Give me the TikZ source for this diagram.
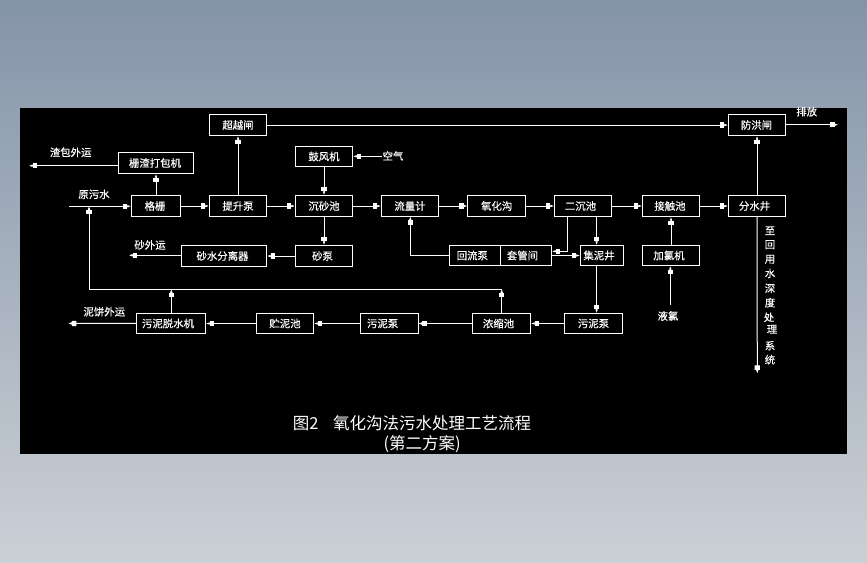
\documentclass[tikz,border=0pt]{standalone}
\usepackage{fontspec}
\setmainfont{Noto Sans CJK SC}[FakeBold=0.3]
\newfontfamily\titlefont{Noto Sans CJK SC}
\usetikzlibrary{arrows.meta}
\definecolor{bgtop}{RGB}{132,148,168}
\definecolor{bgbot}{RGB}{203,208,214}
\newcommand{\bx}[6]{\node[box,minimum width={#4-#2},minimum height={#5-#3}] (#1) at ({(#2+#4)/2},{(#3+#5)/2}) {#6};}
\newcommand{\sft}[1]{\hspace*{#1pt}}
\tikzset{
  x=1pt,y=-1pt,
  box/.style={draw=white,line width=1pt,text=white,inner sep=0pt,font=\fontsize{10.4}{11}\selectfont},
  lbl/.style={text=white,inner sep=0pt,font=\fontsize{10.4}{11}\selectfont},
  conn/.style={draw=white,line width=1pt},
  arr/.style={conn,-{Rectangle[length=4.5pt,width=5.2pt,fill=white]Triangle[length=3.5pt,width=2.2pt,fill=white]}},
  titletext/.style={text=white,inner sep=0pt,font=\titlefont\fontsize{16.5}{17}\selectfont}
}
\begin{document}
\begin{tikzpicture}
\useasboundingbox (0,0) rectangle (867,562);
\shade[top color=bgtop,bottom color=bgbot] (0,0) rectangle (867,562);
\fill[black] (20,108) rectangle (847,454);
% boxes
\bx{chaoyue}{209.3}{114.3}{266.7}{135.7}{超越闸}
\bx{dabao}{118.3}{152.3}{193.7}{173.7}{\sft{-2}栅渣打包机}
\bx{geshan}{131.3}{195.3}{180.7}{216.7}{\sft{-2}格栅}
\bx{tisheng}{209.3}{195.3}{266.7}{216.7}{提升泵}
\bx{gufeng}{295.3}{146.3}{352.7}{166.7}{鼓风机}
\bx{chensha}{295.3}{195.3}{352.7}{216.7}{沉砂池}
\bx{liuliang}{381.3}{195.3}{438.7}{216.7}{流量计}
\bx{yanghua}{467.7}{195.3}{525.7}{216.7}{氧化沟}
\bx{erchen}{554.3}{195.3}{611.7}{216.7}{\sft{-5}二沉池}
\bx{jiechu}{642.3}{195.3}{699.7}{216.7}{\sft{-2}接触池}
\bx{fenshui}{728.3}{195.3}{785.7}{216.7}{\sft{-5}分水井}
\bx{fanghong}{728.3}{114.3}{785.7}{135.7}{\sft{-1}防洪闸}
\bx{shabeng}{295.3}{245.3}{352.7}{266.7}{\sft{-3}砂泵}
\bx{fenli}{181.3}{245.3}{266.7}{266.7}{\sft{-3}砂水分离器}
\bx{huiliu}{449.3}{245.3}{500.3}{265.7}{\sft{-5}回流泵}
\bx{taoguan}{500.3}{245.3}{551.7}{265.7}{\sft{-7}套管间}
\bx{jini}{580.3}{245.3}{623.7}{265.7}{\sft{-6}集泥井}
\bx{jialv}{642.3}{245.3}{699.7}{265.7}{\sft{-4}加氯机}
\bx{tuoshui}{136.3}{313.3}{205.7}{333.7}{\sft{-6}污泥脱水机}
\bx{zhuni}{256.3}{313.3}{313.7}{333.7}{贮泥池}
\bx{wubeng}{360.3}{313.3}{418}{333.7}{\sft{-13}污泥泵}
\bx{nongsuo}{472.3}{313.3}{530.7}{333.7}{\sft{-6}浓缩池}
\bx{wubengb}{564.3}{313.3}{622.7}{333.7}{污泥泵}
% free ends
\coordinate (zhabao) at (29,165.7);
\coordinate (yuan) at (69,206.3);
\coordinate (paifang) at (838,124.7);
\coordinate (kongqi) at (381.7,156.3);
\coordinate (shawai) at (129,255.3);
\coordinate (niwai) at (68.3,323.4);
\coordinate (yelv) at (670.3,305);
\coordinate (huiyong) at (757.3,373.3);
\coordinate (rtl) at (89,289.3);
\coordinate (rtr) at (501.7,289.3);
\coordinate (rtm) at (171.3,289.3);
\coordinate (rti) at (89,206.3);
\coordinate (rfx) at (410.3,216.7);
\coordinate (ecx) at (567.3,251.3);
\coordinate (jnx) at (596.6,250);
% connectors
\draw[arr] (dabao.west |- zhabao) -- (zhabao);
\draw[arr] (geshan) -- (dabao);
\draw[arr] (yuan) -- (geshan.west |- yuan);
\draw[arr] (geshan) -- (tisheng);
\draw[arr] (tisheng) -- (chaoyue);
\draw[arr] (tisheng) -- (chensha);
\draw[arr] (chaoyue) -- (fanghong);
\draw[arr] (fanghong.east |- paifang) -- (paifang);
\draw[arr] (kongqi) -- (gufeng.east |- kongqi);
\draw[arr] (gufeng) -- (chensha);
\draw[arr] (chensha) -- (liuliang);
\draw[arr] (chensha) -- (shabeng);
\draw[arr] (shabeng) -- (fenli);
\draw[arr] (fenli.west |- shawai) -- (shawai);
\draw[arr] (liuliang) -- (yanghua);
\draw[arr] (yanghua) -- (erchen);
\draw[arr] (erchen) -- (jiechu);
\draw[arr] (jiechu) -- (fenshui);
\draw[arr] (fenshui) -- (fanghong);
\draw[arr] (fenshui.south) -- (huiyong);
\draw[arr] (jialv) -- (jiechu);
\draw[arr] (yelv) -- (jialv.south -| yelv);
\draw[arr] (huiliu.west) -| (rfx);
\draw[arr] (erchen.south -| ecx) |- (taoguan.east |- ecx);
\draw[arr] (taoguan) -- (jini);
\draw[arr] (erchen.south -| jnx) -- (jini.north -| jnx);
\draw[arr] (jini.south -| jnx) -- (wubengb.north -| jnx);
\draw[arr] (wubengb) -- (nongsuo);
\draw[arr] (nongsuo) -- (wubeng);
\draw[arr] (wubeng) -- (zhuni);
\draw[arr] (zhuni) -- (tuoshui);
\draw[arr] (tuoshui) -- (niwai);
\draw[arr] (nongsuo.north -| rtr) -- (rtr);
\draw[arr] (tuoshui.north -| rtm) -- (rtm);
\draw[arr] (rtr) -- (rtl) -- (rti);
% labels
\node[lbl] (t1) at (70.7,152.3) {渣包外运};
\node[lbl] (t2) at (94,194.3) {原污水};
\node[lbl] (t3) at (806.7,111.7) {排放};
\node[lbl] (t4) at (393,156) {空气};
\node[lbl] (t5) at (150,245) {砂外运};
\node[lbl] (t6) at (104.3,311.7) {泥饼外运};
\node[lbl] (t7) at (668,316) {液氯};
\node[lbl] (v1) at (770,230.7) {至};
\node[lbl] (v2) at (770,244.7) {回};
\node[lbl] (v3) at (770,259.3) {用};
\node[lbl] (v4) at (770,273.3) {水};
\node[lbl] (v5) at (770,288.3) {深};
\node[lbl] (v6) at (770,302.7) {度};
\node[lbl] (v7) at (769,317.3) {处};
\node[lbl] (v8) at (772,329.3) {理};
\node[lbl] (v9) at (770,345.7) {系};
\node[lbl] (v10) at (770,359.7) {统};
\node[titletext,anchor=west] (title1) at (292.7,423.3) {图2};
\node[titletext,anchor=west] (title2) at (333,423.3) {氧化沟法污水处理工艺流程};
\node[titletext] (title3) at (422.2,444) {(第二方案)};
\end{tikzpicture}
\end{document}
